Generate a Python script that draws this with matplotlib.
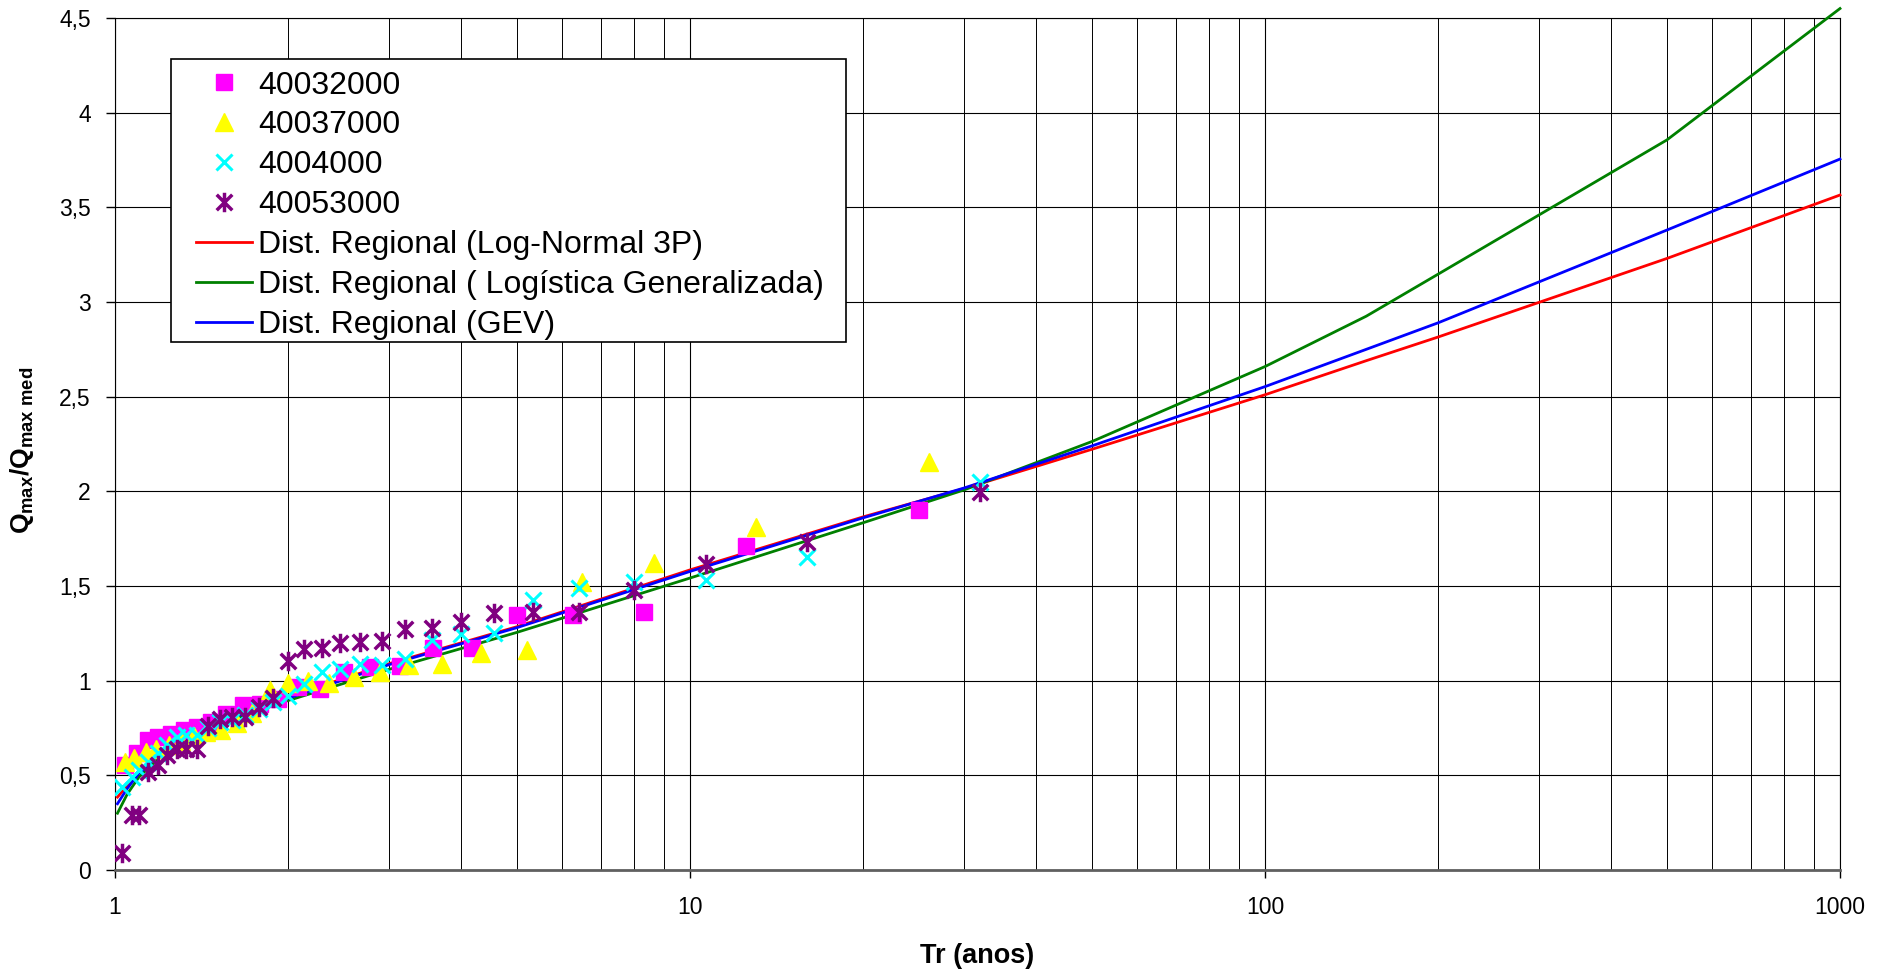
import matplotlib
matplotlib.use("Agg")
import matplotlib.pyplot as plt
from matplotlib.path import Path
from matplotlib.patches import Rectangle
from matplotlib.ticker import FixedLocator, FuncFormatter, NullFormatter

plt.rcParams['font.family'] = ['Liberation Sans', 'DejaVu Sans']
plt.rcParams['mathtext.fontset'] = 'custom'
plt.rcParams['mathtext.rm'] = 'Liberation Sans:bold'
plt.rcParams['mathtext.it'] = 'Liberation Sans:bold'
plt.rcParams['mathtext.bf'] = 'Liberation Sans:bold'

# observed points (Tr in anos, Q/Qmed)
tr_40032000 = [1.04, 1.09, 1.14, 1.19, 1.25, 1.32, 1.39, 1.47, 1.56, 1.67, 1.79, 1.92,
               2.08, 2.27, 2.5, 2.78, 3.13, 3.57, 4.17, 5.0, 6.25, 8.33, 12.5, 25.0]
q_40032000 = [0.555, 0.62, 0.685, 0.70, 0.72, 0.74, 0.755, 0.78, 0.825, 0.87, 0.875, 0.905,
              0.965, 0.955, 1.045, 1.07, 1.08, 1.17, 1.175, 1.347, 1.347, 1.361, 1.712, 1.902]

tr_40037000 = [1.04, 1.08, 1.13, 1.18, 1.24, 1.30, 1.37, 1.44, 1.53, 1.63, 1.73, 1.86, 2.0,
               2.17, 2.36, 2.6, 2.89, 3.25, 3.71, 4.33, 5.2, 6.5, 8.67, 13.0, 26.0]
q_40037000 = [0.57, 0.59, 0.625, 0.64, 0.66, 0.68, 0.71, 0.73, 0.74, 0.775, 0.83, 0.95, 0.99,
              1.0, 0.99, 1.02, 1.048, 1.083, 1.088, 1.145, 1.162, 1.523, 1.623, 1.81, 2.157]

tr_4004000 = [1.03, 1.07, 1.10, 1.14, 1.19, 1.23, 1.28, 1.33, 1.39, 1.45, 1.52, 1.6, 1.68,
              1.78, 1.88, 2.0, 2.13, 2.29, 2.46, 2.67, 2.91, 3.2, 3.56, 4.0, 4.57, 5.33,
              6.4, 8.0, 10.67, 16.0, 32.0]
q_4004000 = [0.44, 0.49, 0.53, 0.57, 0.62, 0.66, 0.70, 0.713, 0.713, 0.75, 0.78, 0.79, 0.82,
             0.85, 0.885, 0.92, 0.985, 1.048, 1.06, 1.088, 1.083, 1.113, 1.215, 1.247,
             1.254, 1.426, 1.488, 1.523, 1.532, 1.655, 2.05]

tr_40053000 = [1.03, 1.07, 1.10, 1.14, 1.19, 1.23, 1.28, 1.33, 1.39, 1.45, 1.52, 1.6, 1.68,
               1.78, 1.88, 2.0, 2.13, 2.29, 2.46, 2.67, 2.91, 3.2, 3.56, 4.0, 4.57, 5.33,
               6.4, 8.0, 10.67, 16.0, 32.0]
q_40053000 = [0.088, 0.29, 0.29, 0.52, 0.555, 0.607, 0.639, 0.639, 0.639, 0.761, 0.796, 0.81,
              0.81, 0.859, 0.906, 1.106, 1.166, 1.17, 1.20, 1.206, 1.21, 1.273, 1.276, 1.312,
              1.356, 1.364, 1.364, 1.479, 1.616, 1.734, 1.998]

# regional distributions
tr_dist = [1.01, 1.05, 1.1, 1.2, 1.5, 2, 3, 5, 10, 20, 30, 50, 100, 150, 200, 500, 1000]
q_ln3 = [0.385, 0.445, 0.525, 0.62, 0.78, 0.915, 1.09, 1.285, 1.585, 1.865, 2.015,
         2.222, 2.51, 2.69, 2.815, 3.23, 3.565]
q_glo = [0.30, 0.40, 0.49, 0.60, 0.765, 0.895, 1.06, 1.255, 1.542, 1.834, 2.008,
         2.263, 2.659, 2.925, 3.147, 3.856, 4.55]
q_gev = [0.35, 0.43, 0.51, 0.615, 0.775, 0.907, 1.085, 1.28, 1.577, 1.86, 2.018,
         2.24, 2.553, 2.75, 2.89, 3.38, 3.755]

# asterisk marker like the spreadsheet one: an X with a vertical bar
star = Path([(-1, -1), (1, 1), (-1, 1), (1, -1), (0, -1.25), (0, 1.25)],
            [Path.MOVETO, Path.LINETO, Path.MOVETO, Path.LINETO, Path.MOVETO, Path.LINETO])

fig = plt.figure(figsize=(18.92, 9.74), dpi=100)
ax = fig.add_axes([115/1892, 1-870/974, (1840-115)/1892, (870-18)/974])

ax.plot(tr_40032000, q_40032000, ls='none', marker='s', ms=11.5, color='#FF00FF',
        mec='#FF00FF', label='40032000', zorder=4)
ax.plot(tr_40037000, q_40037000, ls='none', marker='^', ms=13, color='#FFFF00',
        mec='#FFFF00', label='40037000', zorder=4)
ax.plot(tr_4004000, q_4004000, ls='none', marker='x', ms=12, mew=2.2, color='#00FFFF',
        label='4004000', zorder=4)
ax.plot(tr_40053000, q_40053000, ls='none', marker=star, ms=14, mew=2.5, color='#800080',
        label='40053000', zorder=4)

ax.plot(tr_dist, q_ln3, color='#FF0000', lw=2, label='Dist. Regional (Log-Normal 3P)',
        zorder=3, clip_on=False)
ax.plot(tr_dist, q_glo, color='#008000', lw=2,
        label='Dist. Regional ( Logística Generalizada)', zorder=3, clip_on=False)
ax.plot(tr_dist, q_gev, color='#0000FF', lw=2, label='Dist. Regional (GEV)',
        zorder=3, clip_on=False)

ax.set_xscale('log')
ax.set_xlim(1, 1000)
ax.set_ylim(0, 4.5)

ax.xaxis.set_major_locator(FixedLocator([1, 10, 100, 1000]))
ax.xaxis.set_major_formatter(FuncFormatter(lambda v, p: '%d' % v))
minors = [m * d for d in (1, 10, 100) for m in range(2, 10)]
ax.xaxis.set_minor_locator(FixedLocator(minors))
ax.xaxis.set_minor_formatter(NullFormatter())
ax.yaxis.set_major_locator(FixedLocator([i * 0.5 for i in range(10)]))
ax.yaxis.set_major_formatter(FuncFormatter(lambda v, p: ('%g' % v).replace('.', ',')))

ax.tick_params(axis='x', which='major', direction='out', length=6, width=1,
               labelsize=16.5, pad=13)
ax.tick_params(axis='x', which='minor', length=0)
ax.tick_params(axis='y', direction='out', length=6.5, width=1, labelsize=16.5, pad=11)

ax.grid(True, which='major', axis='both', color='black', lw=0.8)
ax.grid(True, which='minor', axis='x', color='black', lw=0.7)
ax.set_axisbelow(True)

for s in ('top', 'right', 'left'):
    ax.spines[s].set_color('black')
    ax.spines[s].set_linewidth(0.8)
ax.spines['bottom'].set_color('#606060')
ax.spines['bottom'].set_linewidth(2)

ax.set_xlabel('Tr (anos)', fontsize=19.5, fontweight='bold', labelpad=17)
ax.set_ylabel(r'$Q_{max}/Q_{max\ med}$', fontsize=19)
ax.yaxis.set_label_coords(-0.046, 0.493)

# legend box drawn separately so padding matches the original
fig.patches.append(Rectangle((171.4/1892, 1-341.7/974), 674.6/1892, 282.4/974,
                             transform=fig.transFigure, facecolor='white',
                             edgecolor='black', lw=1.2, zorder=5))
leg = fig.legend(loc='upper left', bbox_to_anchor=(196/1892, 1-70.5/974), frameon=False,
                 fontsize=23, numpoints=1, handlelength=1.75, handletextpad=0.2,
                 labelspacing=0.31, borderpad=0, borderaxespad=0)
leg.set_zorder(6)

fig.savefig('out.png', dpi=100)
